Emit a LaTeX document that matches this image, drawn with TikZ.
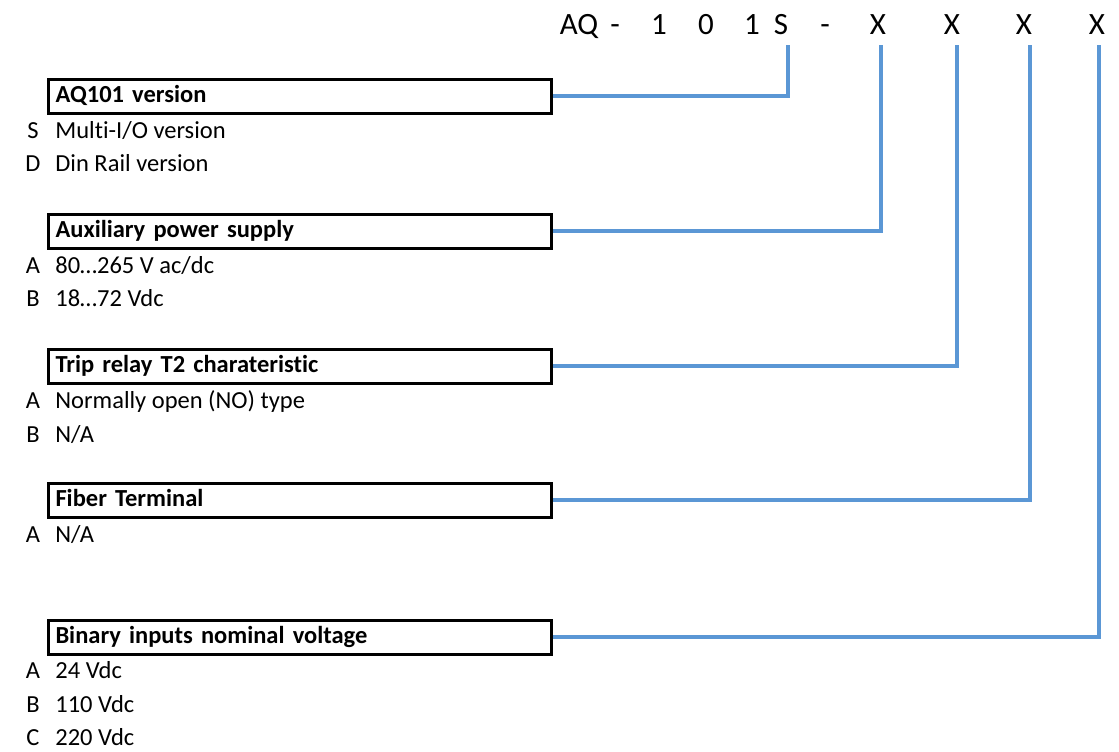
\documentclass[tikz,border=0pt]{standalone}
\usepackage{fontspec}
\setmainfont{Carlito}[Ligatures=NoCommon]
\usepackage{tikz}
\usetikzlibrary{positioning}

\definecolor{wireblue}{RGB}{91,151,213}

\begin{document}
\begin{tikzpicture}[x=0.5pt, y=-0.5pt]
		\tikzstyle{group}=[rectangle, draw, line width=1.5pt, anchor=west, inner xsep=3.5pt, inner ysep=0pt, minimum height=17pt, text width=244.5pt, text height=9pt, text depth=3pt, align=left, font=\fontsize{12.25}{14}\selectfont\bfseries]
		\tikzstyle{letter}=[anchor=base, inner sep=0pt, font=\fontsize{12.25}{14}\selectfont]
		\tikzstyle{option}=[anchor=base west, inner sep=0pt, font=\fontsize{12.25}{14}\selectfont]
		\tikzstyle{code}=[anchor=base, inner sep=0pt, font=\fontsize{15.5}{18}\selectfont]
		\tikzstyle{wire}=[draw=wireblue, line width=2pt]

		\useasboundingbox (0,0) rectangle (1119,751);

		% order code
		\node[code] (codeAQ) at (579,34) {AQ};
		\node[code] (dashA) at (615,34) {-};
		\node[code] (codeOne) at (659,34) {1};
		\node[code] (codeZero) at (706,34) {0};
		\node[code] (codeOneB) at (752,34) {1};
		\node[code] (codeS) at (781,34) {S};
		\node[code] (dashB) at (825,34) {-};
		\node[code] (codeXa) at (878,34) {X};
		\node[code] (codeXb) at (952,34) {X};
		\node[code] (codeXc) at (1024,34) {X};
		\node[code] (codeXd) at (1097,34) {X};

		\coordinate (tapS) at (788,45);
		\coordinate (tapXa) at (881,45);
		\coordinate (tapXb) at (957,45);
		\coordinate (tapXc) at (1030,45);
		\coordinate (tapXd) at (1099,45);

		% groups
		\node[group] (version) at (47,96) {AQ101 version};
		\node[letter] (versionS) at (33,138) {S};
		\node[option] (versionSt) at (55,138) {Multi-I/O version};
		\node[letter] (versionD) at (33,171) {D};
		\node[option] (versionDt) at (55,171) {Din Rail version};

		\node[group] (supply) at (47,231) {Auxiliary power supply};
		\node[letter] (supplyA) at (33,273) {A};
		\node[option] (supplyAt) at (55,273) {80…265 V ac/dc};
		\node[letter] (supplyB) at (33,306) {B};
		\node[option] (supplyBt) at (55,306) {18…72 Vdc};

		\node[group] (relay) at (47,366) {Trip relay T2 charateristic};
		\node[letter] (relayA) at (33,408) {A};
		\node[option] (relayAt) at (55,408) {Normally open (NO) type};
		\node[letter] (relayB) at (33,442) {B};
		\node[option] (relayBt) at (55,442) {N/A};

		\node[group] (fiber) at (47,500) {Fiber Terminal};
		\node[letter] (fiberA) at (33,542) {A};
		\node[option] (fiberAt) at (55,542) {N/A};

		\node[group] (binary) at (47,637) {Binary inputs nominal voltage};
		\node[letter] (binaryA) at (33,678) {A};
		\node[option] (binaryAt) at (55,678) {24 Vdc};
		\node[letter] (binaryB) at (33,712) {B};
		\node[option] (binaryBt) at (55,712) {110 Vdc};
		\node[letter] (binaryC) at (33,745) {C};
		\node[option] (binaryCt) at (55,745) {220 Vdc};

		% connectors
		\draw[wire] (version.east) -| (tapS);
		\draw[wire] (supply.east) -| (tapXa);
		\draw[wire] (relay.east) -| (tapXb);
		\draw[wire] (fiber.east) -| (tapXc);
		\draw[wire] (binary.east) -| (tapXd);

	\end{tikzpicture}
\end{document}
